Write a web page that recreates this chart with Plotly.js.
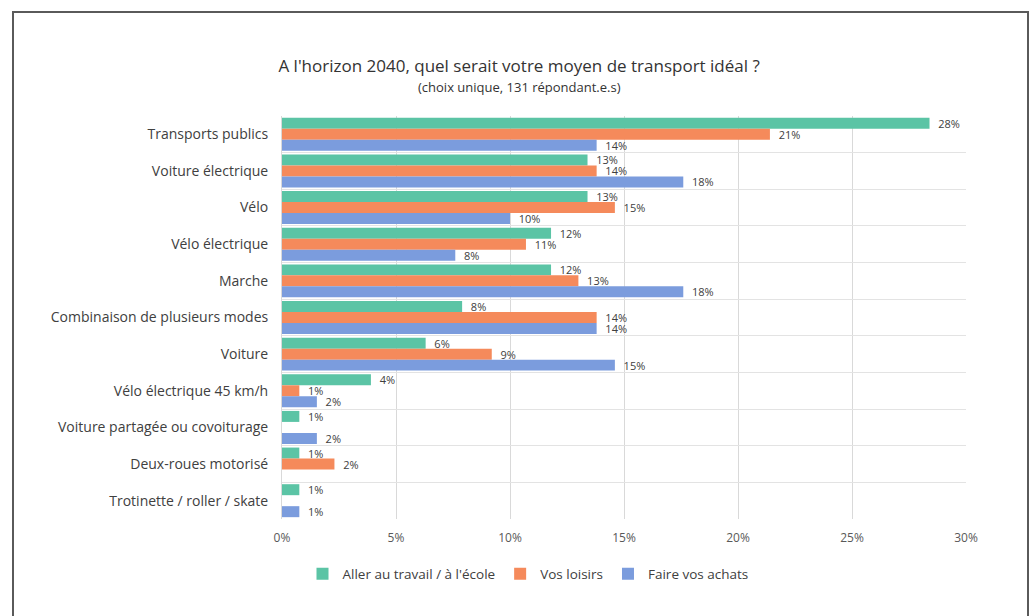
<!DOCTYPE html>
<html>
<head>
<meta charset="utf-8">
<script src="https://cdn.plot.ly/plotly-3.0.1.min.js"></script>
<style>
  html, body { margin: 0; padding: 0; background: #fff; overflow: hidden; }
  #chart { position: absolute; left: 0; top: 0; width: 1030px; height: 616px; }
  #frame { position: absolute; left: 12px; top: 11px; width: 1013px; height: 700px;
           border: 2px solid #5a5a5a; pointer-events: none; }
</style>
</head>
<body>
<div id="chart"></div>
<div id="frame"></div>
<script>
const categories = [
  "Transports publics",
  "Voiture électrique",
  "Vélo",
  "Vélo électrique",
  "Marche",
  "Combinaison de plusieurs modes",
  "Voiture",
  "Vélo électrique 45 km/h",
  "Voiture partagée ou covoiturage",
  "Deux-roues motorisé",
  "Trotinette / roller / skate"
];
const seriesNames = ["Aller au travail / à l'école", "Vos loisirs", "Faire vos achats"];
const travail = [28.4, 13.4, 13.4, 11.8, 11.8, 7.9, 6.3, 3.9, 0.76, 0.76, 0.76];
const loisirs = [21.4, 13.8, 14.6, 10.7, 13.0, 13.8, 9.2, 0.76, null, 2.3, null];
const achats  = [13.8, 17.6, 10.0, 7.6, 17.6, 13.8, 14.6, 1.53, 1.53, null, 0.76];
const colors = ["#5BC4A5", "#F58A5B", "#7B9CDD"];
const xTicks = [0, 5, 10, 15, 20, 25, 30];
const xTickLabels = ["0%", "5%", "10%", "15%", "20%", "25%", "30%"];

const allSeries = [travail, loisirs, achats];
const traces = allSeries.map((vals, i) => ({
  type: "bar",
  orientation: "h",
  name: seriesNames[i],
  y: categories,
  x: vals,
  marker: { color: colors[i] },
  texttemplate: "\u00a0\u00a0%{x:.0f}%",
  textposition: "outside",
  constraintext: "none",
  cliponaxis: false,
  textfont: { family: "Open Sans, sans-serif", size: 11, color: "#404040" },
  hoverinfo: "x+y"
}));

const layout = {
  width: 1030,
  height: 616,
  paper_bgcolor: "#ffffff",
  plot_bgcolor: "#ffffff",
  font: { family: "Open Sans, sans-serif", color: "#404040" },
  margin: { l: 282, r: 64, t: 116, b: 97 },
  barmode: "group",
  bargap: 0.1,
  bargroupgap: 0,
  showlegend: true,
  title: {
    text: "A l'horizon 2040, quel serait votre moyen de transport idéal ?",
    font: { family: "Open Sans, sans-serif", size: 17, color: "#333333" },
    xref: "container", x: 0.504, xanchor: "center",
    yref: "container", y: 1 - 66 / 616, yanchor: "middle"
  },
  annotations: [{
    text: "(choix unique, 131 répondant.e.s)",
    xref: "paper", yref: "paper",
    x: (519 - 282) / 684, y: (519 - 87) / 403,
    xanchor: "center", yanchor: "middle",
    showarrow: false,
    font: { family: "Open Sans, sans-serif", size: 13, color: "#333333" }
  }],
  xaxis: {
    range: [0, 30],
    tickmode: "array",
    tickvals: xTicks,
    ticktext: xTickLabels,
    showgrid: true,
    gridcolor: "#d9d9d9",
    gridwidth: 1,
    zeroline: false,
    showline: false,
    ticks: "",
    ticklabelstandoff: 10,
    tickfont: { family: "Open Sans, sans-serif", size: 12, color: "#595959" },
    fixedrange: true
  },
  yaxis: {
    type: "category",
    autorange: "reversed",
    tickson: "boundaries",
    showgrid: true,
    gridcolor: "#e3e3e3",
    gridwidth: 1,
    showline: true,
    linecolor: "#d9d9d9",
    ticks: "",
    ticklabelstandoff: 10,
    tickfont: { family: "Open Sans, sans-serif", size: 14, color: "#404040" },
    fixedrange: true
  },
  legend: {
    orientation: "h",
    xref: "paper", yref: "paper",
    x: (528 - 282) / 684, xanchor: "center",
    y: (519 - 574) / 403, yanchor: "middle",
    font: { family: "Open Sans, sans-serif", size: 13.5, color: "#404040" },
    traceorder: "normal",
    itemwidth: 30
  }
};

Plotly.newPlot("chart", traces, layout, { displayModeBar: false, staticPlot: true });
</script>
</body>
</html>
